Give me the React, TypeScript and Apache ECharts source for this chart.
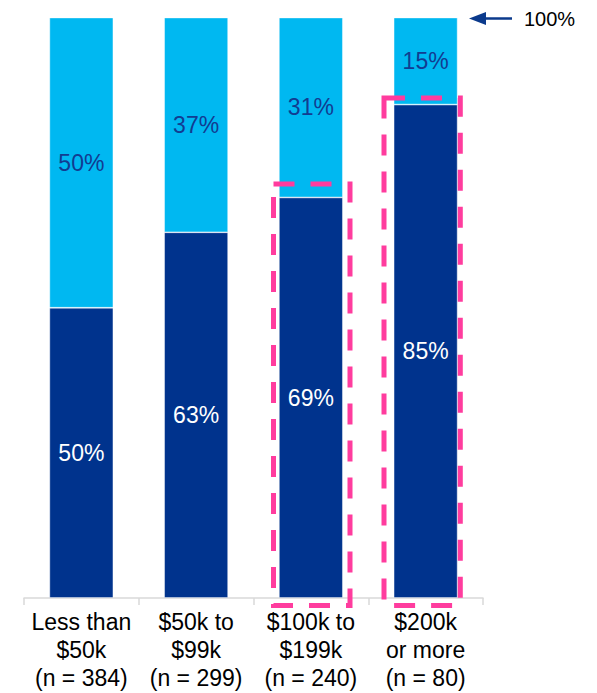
import React, { useEffect, useRef } from "react";
import * as echarts from "echarts";

const categories = [
  "Less than\n$50k\n(n = 384)",
  "$50k to\n$99k\n(n = 299)",
  "$100k to\n$199k\n(n = 240)",
  "$200k\nor more\n(n = 80)",
];
const lowerValues = [50, 63, 69, 85];
const upperValues = [50, 37, 31, 15];
const topLabel = "100%";

const DARK = "#00338D";
const LIGHT = "#00B8F1";
const PINK = "#FF3C9E";
const FONT = "'Liberation Sans', Arial, sans-serif";

export default function App() {
  const ref = useRef<HTMLDivElement>(null);
  useEffect(() => {
    if (!ref.current) return;
    const chart = echarts.init(ref.current, null, { renderer: "svg" });
    chart.setOption({
      animation: false,
      grid: { left: 24, right: 114, top: 17.5, bottom: 95, containLabel: false },
      xAxis: {
        type: "category",
        data: categories,
        axisLine: { show: true, lineStyle: { color: "#D9D9D9", width: 1.5 } },
        axisTick: { show: true, length: 7, lineStyle: { color: "#D9D9D9", width: 1.5 } },
        axisLabel: {
          interval: 0,
          margin: 10,
          color: "#000",
          fontFamily: FONT,
          fontSize: 23,
          lineHeight: 28,
        },
      },
      yAxis: { type: "value", min: 0, max: 100, show: false, splitLine: { show: false } },
      series: [
        {
          type: "bar",
          stack: "s",
          data: lowerValues,
          barWidth: 64,
          itemStyle: { color: DARK, borderColor: "rgba(255,255,255,0.55)", borderWidth: 0.8 },
          label: {
            show: true,
            position: "inside",
            formatter: "{c}%",
            color: "#fff",
            fontFamily: FONT,
            fontSize: 23,
          },
        },
        {
          type: "bar",
          stack: "s",
          data: upperValues,
          barWidth: 64,
          itemStyle: { color: LIGHT, borderColor: "rgba(255,255,255,0.55)", borderWidth: 0.8 },
          label: {
            show: true,
            position: "inside",
            formatter: "{c}%",
            color: "#123C91",
            fontFamily: FONT,
            fontSize: 23,
          },
        },
      ],
      graphic: [
        {
          type: "rect",
          shape: { x: 273.5, y: 184, width: 76.5, height: 421.5 },
          style: { fill: "none", stroke: PINK, lineWidth: 5, lineDash: [21, 16] },
          z: 100,
        },
        {
          type: "rect",
          shape: { x: 384, y: 98, width: 76.3, height: 507.5 },
          style: { fill: "none", stroke: PINK, lineWidth: 5, lineDash: [21, 16] },
          z: 100,
        },
        {
          type: "line",
          shape: { x1: 480, y1: 18.5, x2: 512, y2: 18.5 },
          style: { stroke: "#0B3A8C", lineWidth: 2.5 },
        },
        {
          type: "polygon",
          shape: { points: [[469, 18.5], [486, 12], [486, 25]] },
          style: { fill: "#0B3A8C" },
        },
        {
          type: "text",
          x: 524,
          y: 18.5,
          style: {
            text: topLabel,
            fill: "#000",
            fontFamily: FONT,
            fontSize: 20,
            verticalAlign: "middle",
            align: "left",
          },
        },
      ],
    });
    return () => chart.dispose();
  }, []);
  return (
    <div
      ref={ref}
      style={{ position: "absolute", left: 0, top: 0, width: 597, height: 693 }}
    />
  );
}
